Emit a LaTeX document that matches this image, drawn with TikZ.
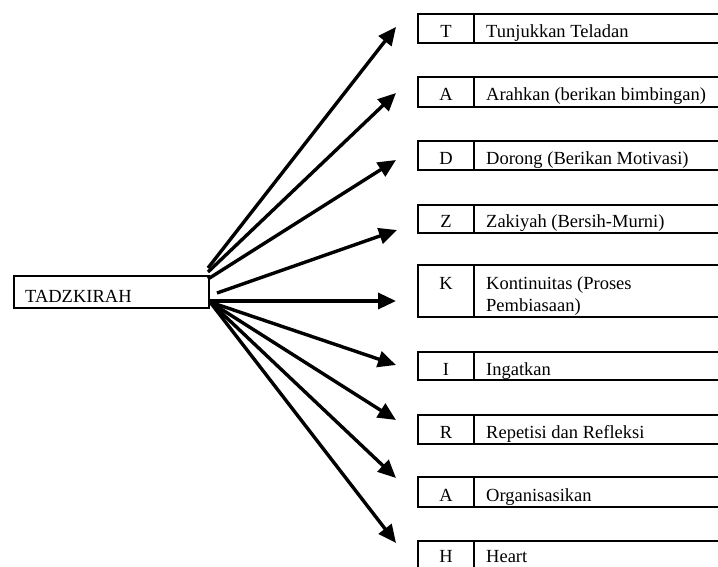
\documentclass[tikz,border=0pt]{standalone}
\usepackage{fontspec}
\setmainfont{Liberation Serif}
\usetikzlibrary{arrows.meta}
\begin{document}
\begin{tikzpicture}[x=1pt,y=-1pt,
  txt/.style={font=\fontsize{18.5}{21}\selectfont, inner sep=0pt, anchor=base west},
  letr/.style={font=\fontsize{18.5}{21}\selectfont, inner sep=0pt, anchor=base},
  arr/.style={line width=3.4pt, -{Triangle[length=18pt,width=16pt]}},
  frame/.style={line width=1.7pt}]
\clip (0,0) rectangle (718,567);
\fill[white] (0,0) rectangle (718,567);
% main box
\node[draw, frame, anchor=north west, minimum width=195pt, minimum height=32pt, inner sep=0pt] (tz) at (13,275) {};
\node[txt] (tzt) at (25,302) {TADZKIRAH};
% right boxes
\foreach \t/\b in {14/43,77/107,141/170,205/233,265/317,352/380,415/444,477/507,541/570}{
  \draw[frame] (418,\t) rectangle (725,\b);
  \draw[frame] (474,\t) -- (474,\b);
}
\node[letr] (l1) at (446,38) {T};
\node[txt]  (n1) at (486,38) {Tunjukkan Teladan};
\node[letr] (l2) at (446,101) {A};
\node[txt]  (n2) at (486,101) {Arahkan (berikan bimbingan)};
\node[letr] (l3) at (446,165) {D};
\node[txt]  (n3) at (486,165) {Dorong (Berikan Motivasi)};
\node[letr] (l4) at (446,227) {Z};
\node[txt]  (n4) at (486,227) {Zakiyah (Bersih-Murni)};
\node[letr] (l5) at (446,289) {K};
\node[txt]  (n5) at (486,289) {Kontinuitas (Proses};
\node[txt]  (n5b) at (486,311) {Pembiasaan)};
\node[letr] (l6) at (446,375) {I};
\node[txt]  (n6) at (486,375) {Ingatkan};
\node[letr] (l7) at (446,438) {R};
\node[txt]  (n7) at (486,438) {Repetisi dan Refleksi};
\node[letr] (l8) at (446,501) {A};
\node[txt]  (n8) at (486,501) {Organisasikan};
\node[letr] (l9) at (446,562) {H};
\node[txt]  (n9) at (486,562) {Heart};
% arrow endpoints
\coordinate (s1) at (208,268); \coordinate (t1) at (396,27);
\coordinate (s2) at (208,272); \coordinate (t2) at (396,93);
\coordinate (s3) at (208,279); \coordinate (t3) at (396,160);
\coordinate (s4) at (217,293); \coordinate (t4) at (397,230);
\coordinate (s5) at (208,301); \coordinate (t5) at (396,301);
\coordinate (s6) at (210,302); \coordinate (t6) at (396,365);
\coordinate (s7) at (210,302); \coordinate (t7) at (396,420);
\coordinate (s8) at (210,302); \coordinate (t8) at (396,478);
\coordinate (s9) at (210,302); \coordinate (t9) at (396,543);
\foreach \i in {1,...,9}{ \draw[arr] (s\i) -- (t\i); }
\end{tikzpicture}
\end{document}
